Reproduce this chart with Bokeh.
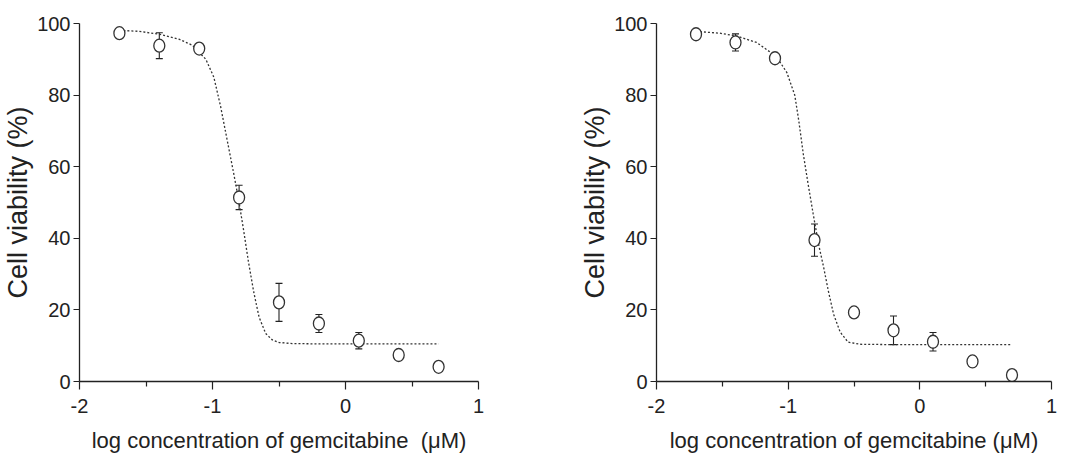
from bokeh.plotting import figure
from bokeh.models import (ColumnDataSource, Whisker, TeeHead, FixedTicker, Range1d)
from bokeh.layouts import row
from bokeh.embed import file_html
from bokeh.resources import INLINE

# ---- data ----
log_conc = [-1.7, -1.4, -1.1, -0.8, -0.5, -0.2, 0.1, 0.4, 0.7]

left_viability = [97.3, 93.8, 93.0, 51.4, 22.1, 16.2, 11.4, 7.4, 4.1]
left_err = [0.5, 3.6, 1.0, 3.4, 5.3, 2.5, 2.3, 0.8, 0.5]

right_viability = [97.0, 94.7, 90.3, 39.5, 19.3, 14.3, 11.1, 5.6, 1.8]
right_err = [0.5, 2.4, 1.0, 4.5, 0.8, 4.0, 2.6, 0.8, 0.5]

left_curve_x = [-1.70, -1.55, -1.40, -1.25, -1.15, -1.05, -0.99, -0.94, -0.89,
                -0.84, -0.80, -0.765, -0.73, -0.69, -0.65, -0.60, -0.55, -0.50,
                -0.40, -0.20, 0.10, 0.40, 0.70]
left_curve_y = [98.1, 97.8, 97.0, 95.6, 93.9, 90.0, 85.0, 77.0, 67.5,
                58.0, 50.0, 42.0, 33.5, 25.0, 18.0, 13.4, 11.6, 10.9,
                10.6, 10.5, 10.5, 10.5, 10.5]

right_curve_x = [-1.70, -1.52, -1.39, -1.24, -1.09, -1.01, -0.95, -0.92, -0.885,
                 -0.85, -0.81, -0.77, -0.73, -0.695, -0.655, -0.605, -0.545,
                 -0.455, -0.20, 0.10, 0.40, 0.70]
right_curve_y = [97.8, 97.3, 96.5, 94.7, 90.8, 86.3, 80.0, 73.0, 63.5,
                 55.5, 46.8, 38.5, 31.8, 25.3, 18.8, 13.8, 11.0,
                 10.4, 10.3, 10.3, 10.3, 10.3]

x_major = [-2, -1, 0, 1]
x_major_labels = ["-2", "-1", "0", "1"]
x_minor = [-1.5, -0.5, 0.5]
y_major = [0, 20, 40, 60, 80, 100]

y_title = "Cell viability (%)"
left_x_title = "log concentration of gemcitabine\u00a0 (\u03bcM)"
right_x_title = "log concentration of gemcitabine (\u03bcM)"

FONT = "Liberation Sans"
INK = "#222222"


def make_panel(viab, err, cx, cy, xtitle, frame_w, border_right):
    p = figure(frame_width=frame_w, frame_height=358,
               x_range=Range1d(-2, 1), y_range=Range1d(0, 100),
               output_backend="svg", toolbar_location=None,
               min_border_left=79, min_border_right=border_right,
               min_border_top=23, min_border_bottom=78)
    p.outline_line_color = None
    p.grid.visible = False
    p.background_fill_color = "white"

    # fitted curve
    p.line(cx, cy, line_color="#333333", line_width=1.3, line_dash="2 2")

    # error bars
    lower = [v - e for v, e in zip(viab, err)]
    upper = [v + e for v, e in zip(viab, err)]
    src = ColumnDataSource(dict(x=log_conc, y=viab, lower=lower, upper=upper))
    w = Whisker(base="x", lower="lower", upper="upper", source=src,
                dimension="height", line_color=INK, line_width=1.1,
                lower_head=TeeHead(size=7, line_color=INK, line_width=1.1),
                upper_head=TeeHead(size=7, line_color=INK, line_width=1.1),
                level="underlay")
    p.add_layout(w)

    # open circles
    p.ellipse(x="x", y="y", source=src, width=11, height=13,
              width_units="screen", height_units="screen",
              fill_color="white", line_color="#333333", line_width=1.3)

    # axes
    xa = p.xaxis[0]
    xa.ticker = FixedTicker(ticks=x_major, minor_ticks=x_minor)
    xa.major_label_overrides = {t: s for t, s in zip(x_major, x_major_labels)}
    xa.major_tick_out = 8
    xa.major_tick_in = 0
    xa.minor_tick_out = 5
    xa.minor_tick_in = 0
    xa.axis_label = xtitle
    xa.axis_label_text_font = FONT
    xa.axis_label_text_font_size = "22px"
    xa.axis_label_text_font_style = "normal"
    xa.axis_label_text_color = INK
    xa.axis_label_standoff = 12
    xa.major_label_text_font = FONT
    xa.major_label_text_font_size = "20px"
    xa.major_label_text_color = INK
    xa.major_label_standoff = 9

    ya = p.yaxis[0]
    ya.ticker = FixedTicker(ticks=y_major)
    ya.major_tick_out = 6
    ya.major_tick_in = 0
    ya.minor_tick_out = 0
    ya.minor_tick_in = 0
    ya.axis_label = y_title
    ya.axis_label_text_font = FONT
    ya.axis_label_text_font_size = "27px"
    ya.axis_label_text_font_style = "normal"
    ya.axis_label_text_color = INK
    ya.axis_label_standoff = 1
    ya.major_label_text_font = FONT
    ya.major_label_text_font_size = "20px"
    ya.major_label_text_color = INK
    ya.major_label_standoff = 3

    for ax in (xa, ya):
        ax.axis_line_color = INK
        ax.axis_line_width = 1.3
        ax.major_tick_line_color = INK
        ax.major_tick_line_width = 1.2
        ax.minor_tick_line_color = INK
        ax.minor_tick_line_width = 1.2
    return p


p_left = make_panel(left_viability, left_err, left_curve_x, left_curve_y,
                    left_x_title, 399, 99)
p_right = make_panel(right_viability, right_err, right_curve_x, right_curve_y,
                     right_x_title, 395, 17)

layout = row(p_left, p_right, spacing=0)
open("out.html", "w").write(file_html(layout, INLINE))
